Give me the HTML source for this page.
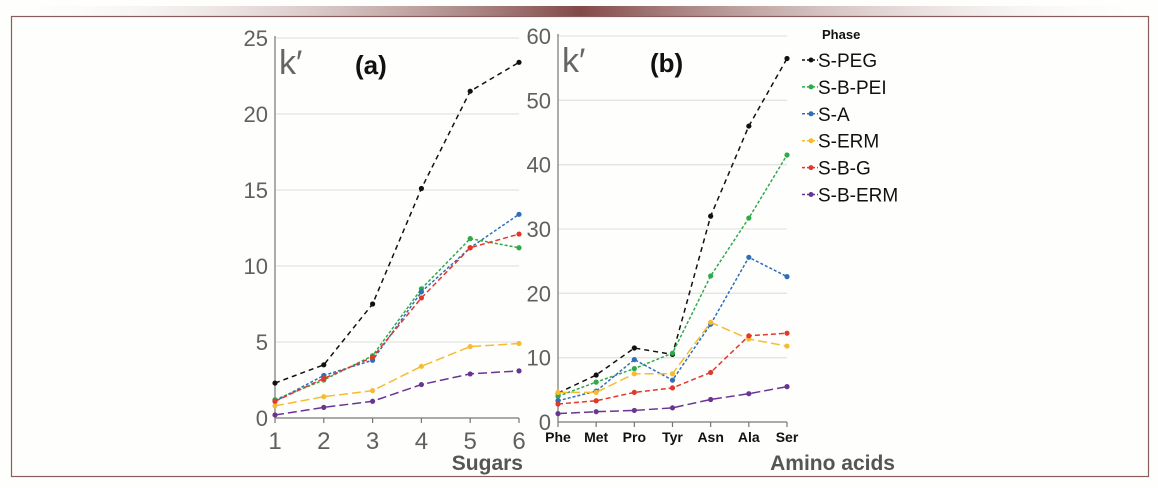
<!DOCTYPE html>
<html><head><meta charset="utf-8"><style>
html,body{margin:0;padding:0;background:#fefefd;}
svg{display:block;font-family:"Liberation Sans",sans-serif;}
</style></head><body>
<svg width="1158" height="488" viewBox="0 0 1158 488">
<defs><linearGradient id="tg" x1="0" x2="1">
<stop offset="0" stop-color="#fff" stop-opacity="0"/><stop offset="0.5" stop-color="#6b2a28"/><stop offset="1" stop-color="#fff" stop-opacity="0"/></linearGradient></defs>
<rect x="0" y="6" width="1158" height="10" fill="url(#tg)" opacity="0.85"/>
<rect x="11.5" y="16.5" width="1137" height="460" fill="#fefefd" stroke="#8a5c5c" stroke-width="1.2"/>
<g id="pa"></g>
<g id="pb"></g>
<g id="lg"></g>
</svg>
<script>
const seriesNames=["S-PEG","S-B-PEI","S-A","S-ERM","S-B-G","S-B-ERM"];
const seriesColors=["#111111","#2faa48","#2f6fb8","#f7bb33","#e2382c","#6a3592"];
const seriesDash=["5,4","3,2","3,2","9,4","5,3","9,4"];
const sugarCats=[1,2,3,4,5,6];
const sugarTicks=[0,5,10,15,20,25];
const sugPEG=[2.3,3.5,7.5,15.1,21.5,23.4];
const sugPEI=[1.2,2.5,4.1,8.5,11.8,11.2];
const sugA=[1.1,2.8,3.8,8.3,11.2,13.4];
const sugERM=[0.8,1.4,1.8,3.4,4.7,4.9];
const sugBG=[1.1,2.6,4.0,7.9,11.2,12.1];
const sugBERM=[0.2,0.7,1.1,2.2,2.9,3.1];
const aminoCats=["Phe","Met","Pro","Tyr","Asn","Ala","Ser"];
const aminoTicks=[0,10,20,30,40,50,60];
const amPEG=[4.5,7.3,11.5,10.5,32,46,56.5];
const amPEI=[4.0,6.2,8.3,10.7,22.7,31.7,41.5];
const amA=[3.3,4.8,9.7,6.5,15.2,25.6,22.6];
const amERM=[4.6,4.6,7.5,7.5,15.5,12.9,11.8];
const amBG=[2.8,3.3,4.6,5.3,7.7,13.4,13.8];
const amBERM=[1.3,1.6,1.8,2.2,3.5,4.4,5.5];

const NS="http://www.w3.org/2000/svg";
function mk(p,t,a,txt){const e=document.createElementNS(NS,t);for(const k in a)e.setAttribute(k,a[k]);if(txt!==undefined)e.textContent=txt;p.appendChild(e);return e;}

function panel(g,cfg){
  const x=i=>cfg.x0+(cfg.x1-cfg.x0)*i/(cfg.n-1);
  const y=v=>cfg.y0-(cfg.y0-cfg.y1)*v/cfg.ymax;
  cfg.ticks.forEach(t=>{
    if(t>0){const l=mk(g,'line',{x1:cfg.x0,x2:cfg.x1,y1:y(t),y2:y(t),stroke:'#e4e4e4','stroke-width':1.3});
    }
    const tx=mk(g,'text',{x:cfg.x0-7,y:y(t)+8,'text-anchor':'end','font-size':22,fill:'#606060'},t);
    
  });
  const ya=mk(g,'line',{x1:cfg.x0,x2:cfg.x0,y1:cfg.y1-2,y2:cfg.y0,stroke:'#777','stroke-width':1.2});
  
  const xa=mk(g,'line',{x1:cfg.x0,x2:cfg.x1,y1:cfg.y0,y2:cfg.y0,stroke:'#777','stroke-width':1.2});
  
  cfg.cats.forEach((c,i)=>{
    const tk=mk(g,'line',{x1:x(i),x2:x(i),y1:cfg.y0,y2:cfg.y0+5,stroke:'#777','stroke-width':1.2});
    
    const tx=mk(g,'text',{x:x(i),y:cfg.y0+cfg.lblDy,'text-anchor':'middle','font-size':cfg.lblSize,'font-weight':cfg.lblBold?'bold':'normal',fill:cfg.lblBold?'#111':'#606060'},c);
    
  });
  cfg.series.forEach((s,si)=>{
    const pts=s.map((v,i)=>x(i)+','+y(v)).join(' ');
    const pl=mk(g,'polyline',{points:pts,fill:'none',stroke:seriesColors[si],'stroke-width':1.5,'stroke-dasharray':seriesDash[si]});
    
    s.forEach((v,i)=>{const c=mk(g,'circle',{cx:x(i),cy:y(v),r:2.6,fill:seriesColors[si]});
      });
  });
  const k=mk(g,'text',{x:cfg.x0+4,y:cfg.y1+36,'font-size':34,fill:'#666'},'k′');
  
  const pt=mk(g,'text',{x:cfg.tagX,y:cfg.y1+36,'font-size':26,'font-weight':'bold',fill:'#111'},cfg.tag);
  
  const xt=mk(g,'text',{x:cfg.titleX,y:470,'text-anchor':'end','font-size':21,'font-weight':'bold',fill:'#555'},cfg.title);
  
}
panel(document.getElementById('pa'),{x0:275,x1:519,y0:418,y1:38,ymax:25,n:6,ticks:sugarTicks,cats:sugarCats,
  series:[sugPEG,sugPEI,sugA,sugERM,sugBG,sugBERM],lblDy:31,lblSize:24,lblBold:false,tag:'(a)',tagX:355,title:'Sugars',titleX:523});
panel(document.getElementById('pb'),{x0:558,x1:787,y0:422,y1:36,ymax:60,n:7,ticks:aminoTicks,cats:aminoCats,
  series:[amPEG,amPEI,amA,amERM,amBG,amBERM],lblDy:20,lblSize:14,lblBold:true,tag:'(b)',tagX:650,title:'Amino acids',titleX:895});
const lg=document.getElementById('lg');
const ph=mk(lg,'text',{x:822,y:39,'font-size':13,'font-weight':'bold',fill:'#111'},'Phase');

seriesNames.forEach((n,i)=>{
  const cy=60+i*26.9;
  const l=mk(lg,'line',{x1:802,x2:818,y1:cy,y2:cy,stroke:seriesColors[i],'stroke-width':1.5,'stroke-dasharray':'3,2'});
  
  const c=mk(lg,'circle',{cx:811,cy:cy,r:2.5,fill:seriesColors[i]});
  
  const t=mk(lg,'text',{x:818,y:cy+7,'font-size':19,fill:'#111'},n);
  
});
</script>
</body></html>
